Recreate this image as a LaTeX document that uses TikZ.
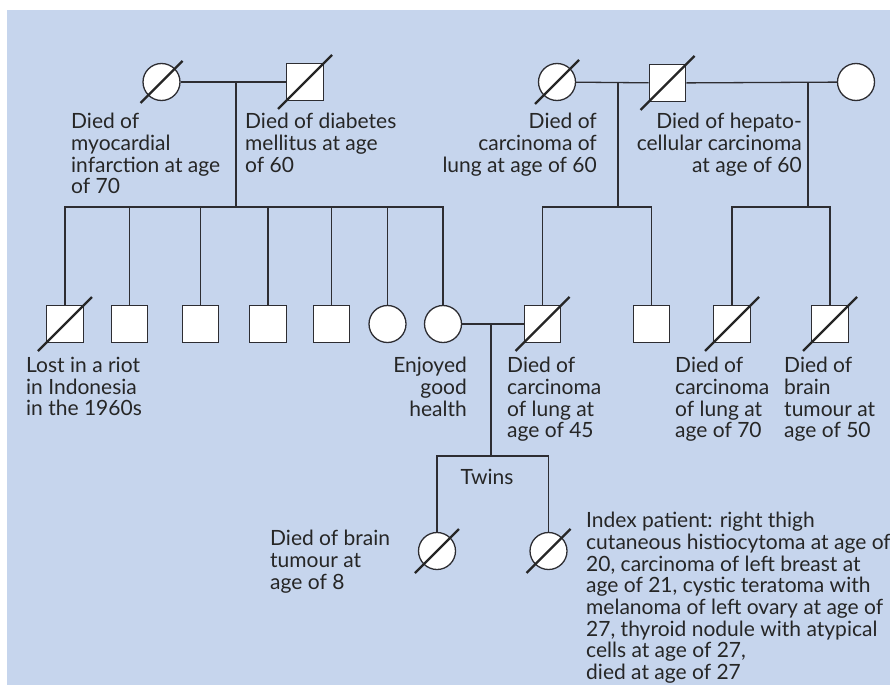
\documentclass[tikz,border=0pt]{standalone}
\usepackage{fontspec}
\setmainfont{Lato}
\usetikzlibrary{positioning,calc}

\definecolor{panelblue}{RGB}{198,213,237}
\definecolor{linegray}{RGB}{45,45,50}

% slash through a deceased person
\newcommand{\deceased}[2]{%
  \draw[slash] ($(#1)+(-#2,#2)$) -- ($(#1)+(#2,-#2)$);}

\begin{document}
\begin{tikzpicture}[
    x=1pt, y=-1pt,
    male/.style={rectangle, draw=linegray, fill=white,
                 minimum size=36.5pt, inner sep=0pt, line width=1.3pt},
    female/.style={circle, draw=linegray, fill=white,
                   minimum size=37pt, inner sep=0pt, line width=1.3pt},
    link/.style={draw=linegray, line width=1.3pt},
    slash/.style={draw=black!85, line width=2.4pt},
    note/.style={font=\fontsize{21}{21.7}\selectfont, text=black!85,
                 inner sep=0pt},
    noteL/.style={note, anchor=north west, align=left},
    noteR/.style={note, anchor=north east, align=right}
]
    \useasboundingbox (0,0) rectangle (890,685);
    \fill[panelblue] (7,10) rectangle (890,685);

    % Generation I
    \node[female] (gm1) at (161.5,82) {};
    \node[male]   (gf1) at (305,82) {};
    \node[female] (gm2) at (557,82) {};
    \node[male]   (gf2) at (667.5,83) {};
    \node[female] (gm3) at (856,82) {};

    \coordinate (mar1) at (236,82);
    \coordinate (mar2) at (618,82);
    \coordinate (mar3) at (808,82);
    \coordinate (sib1) at (236,207);
    \coordinate (sib2) at (618,207);
    \coordinate (sib3) at (808,207);

    % Generation II
    \node[male]   (u1) at (65,324) {};
    \node[male]   (u2) at (129.5,324) {};
    \node[male]   (u3) at (200.5,324) {};
    \node[male]   (u4) at (268,324) {};
    \node[male]   (u5) at (331.5,324) {};
    \node[female] (a1) at (387.5,324) {};
    \node[female] (mother) at (443,324) {};
    \node[male]   (father) at (542.5,324) {};
    \node[male]   (u6) at (651.5,324) {};
    \node[male]   (u7) at (732,324) {};
    \node[male]   (u8) at (830,324) {};

    \coordinate (mar4) at (491,324);
    \coordinate (twin) at (491,456);

    % Generation III
    \node[female] (sis)   at (437,551) {};
    \node[female] (index) at (548.5,551) {};

    % Marriage and descent lines
    \draw[link] (gm1) -- (gf1);
    \draw[link] (gm2) -- (gf2);
    \draw[link] (gf2) -- (gm3);
    \draw[link] (mother) -- (father);
    \draw[link] (mar1) -- (sib1);
    \draw[link] (mar2) -- (sib2);
    \draw[link] (mar3) -- (sib3);
    \draw[link] (mar4) -- (twin);

    % Sibship lines
    \foreach \kid in {u1,u2,u3,u4,u5,a1,mother}
        \draw[link] (sib1) -| (\kid.north);
    \foreach \kid in {father,u6}
        \draw[link] (sib2) -| (\kid.north);
    \foreach \kid in {u7,u8}
        \draw[link] (sib3) -| (\kid.north);
    \foreach \kid in {sis,index}
        \draw[link] (twin) -| (\kid.north);

    % Deceased
    \deceased{gm1}{21}
    \deceased{gf1}{27}
    \deceased{gm2}{22}
    \deceased{gf2}{27}
    \deceased{u1}{27}
    \deceased{father}{27}
    \deceased{u7}{27}
    \deceased{u8}{27}
    \deceased{sis}{22}
    \deceased{index}{22}

    % Notes
    \node[noteL] (n1) at (71,113) {Died of\\myocardial\\infarction at age\\of 70};
    \node[noteL] (n2) at (245,113) {Died of diabetes\\mellitus at age\\of 60};
    \node[noteR] (n3) at (597,113) {Died of\\carcinoma of\\lung at age of 60};
    \node[noteR] (n4) at (802,113) {Died of hepato-\\cellular carcinoma\\at age of 60};
    \node[noteL] (n5) at (26,357) {Lost in a riot\\in Indonesia\\in the 1960s};
    \node[noteR] (n6) at (467,357) {Enjoyed\\good\\health};
    \node[noteL] (n7) at (507,357) {Died of\\carcinoma\\of lung at\\age of 45};
    \node[noteL] (n8) at (675,357) {Died of\\carcinoma\\of lung at\\age of 70};
    \node[noteL] (n9) at (784,357) {Died of\\brain\\tumour at\\age of 50};
    \node[note] (twins) at (487,477) {Twins};
    \node[noteL] (n10) at (270,530) {Died of brain\\tumour at\\age of 8};
    \node[noteL] (n11) at (586,512) {Index patient: right thigh\\cutaneous histiocytoma at age of\\20, carcinoma of left breast at\\age of 21, cystic teratoma with\\melanoma of left ovary at age of\\27, thyroid nodule with atypical\\cells at age of 27,\\died at age of 27};
\end{tikzpicture}
\end{document}
